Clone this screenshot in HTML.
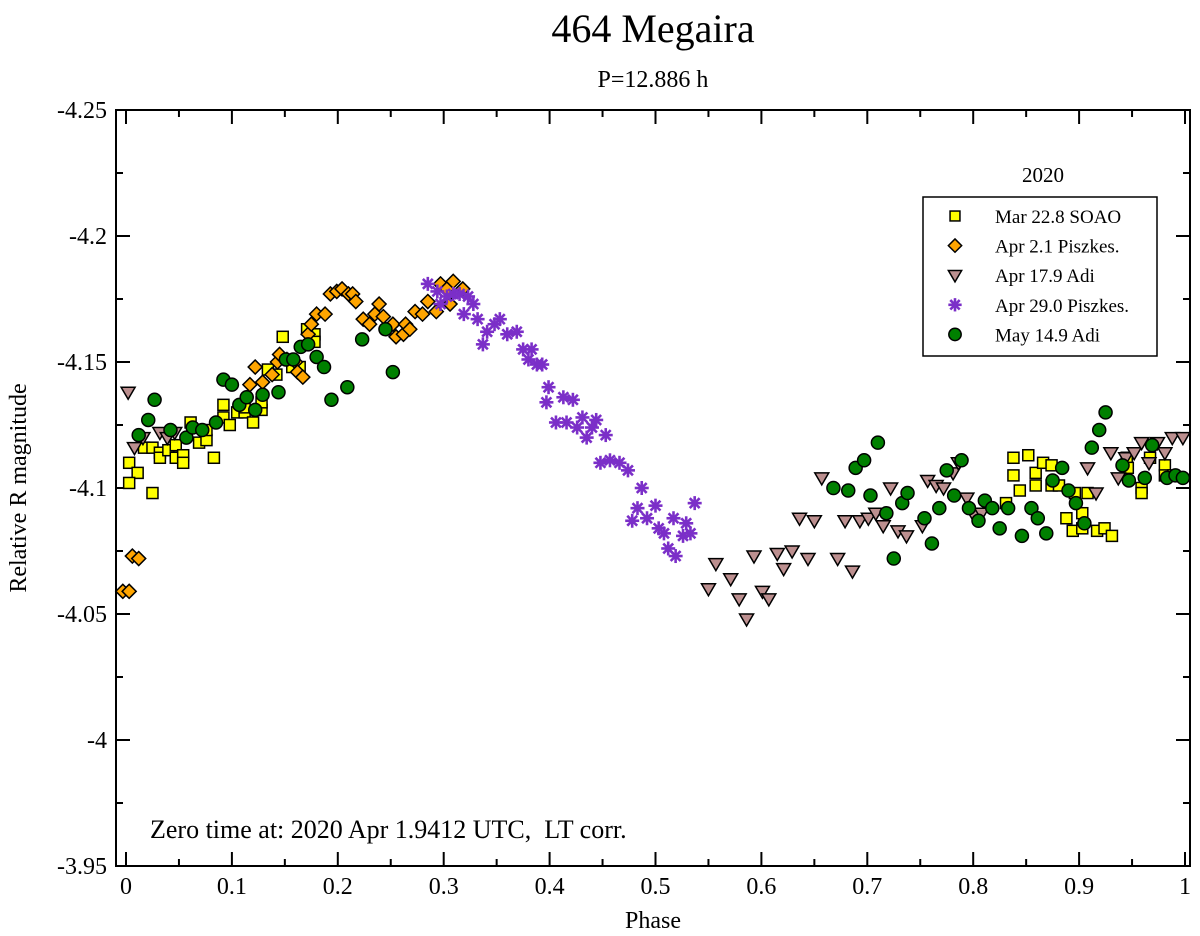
<!DOCTYPE html>
<html><head><meta charset="utf-8"><style>
html,body{margin:0;padding:0;background:#fff}
svg{display:block}
text{font-family:"Liberation Serif",serif;fill:#000}
</style></head><body>
<svg id="chart" width="1200" height="936" viewBox="0 0 1200 936">
<text x="653" y="42" font-size="40" text-anchor="middle">464 Megaira</text>
<text x="653" y="87" font-size="24" text-anchor="middle">P=12.886 h</text>
<rect x="116" y="110" width="1074" height="756" fill="none" stroke="#000" stroke-width="2"/>
<g id="axes"></g>
<g id="marks"></g>
<text x="653" y="928" font-size="24" text-anchor="middle">Phase</text>
<text transform="translate(26,488) rotate(-90)" font-size="24" text-anchor="middle">Relative R magnitude</text>
<text x="150" y="838" font-size="26">Zero time at: 2020 Apr 1.9412 UTC,&#160; LT corr.</text>
<g>
<text x="1043" y="182" font-size="21" text-anchor="middle">2020</text>
<rect x="923" y="197" width="234" height="159" fill="#fff" stroke="#000" stroke-width="1.5"/>
<g id="legend-items"></g>
</g>
</svg>
<script>
const xTicks=[0,0.1,0.2,0.3,0.4,0.5,0.6,0.7,0.8,0.9,1];
const xTickLabels=["0","0.1","0.2","0.3","0.4","0.5","0.6","0.7","0.8","0.9","1"];
const yTicks=[-4.25,-4.2,-4.15,-4.1,-4.05,-4,-3.95];
const yTickLabels=["-4.25","-4.2","-4.15","-4.1","-4.05","-4","-3.95"];
const seriesNames=["Mar 22.8 SOAO","Apr 2.1 Piszkes.","Apr 17.9 Adi","Apr 29.0 Piszkes.","May 14.9 Adi"];
const soaoPhase=[0.003,0.011,0.003,0.025,0.017,0.025,0.032,0.032,0.040,0.047,0.047,0.054,0.054,0.061,0.069,0.076,0.076,0.083,0.092,0.092,0.098,0.105,0.112,0.112,0.120,0.128,0.128,0.134,0.142,0.148,0.157,0.164,0.171,0.178,0.178,0.831,0.838,0.852,0.838,0.844,0.859,0.859,0.866,0.874,0.874,0.881,0.888,0.894,0.896,0.903,0.903,0.908,0.917,0.924,0.931,0.945,0.946,0.959,0.959,0.967,0.981,0.981,0.989];
const soaoMag=[-4.110,-4.106,-4.102,-4.098,-4.116,-4.116,-4.114,-4.112,-4.115,-4.117,-4.112,-4.113,-4.110,-4.126,-4.118,-4.119,-4.123,-4.112,-4.133,-4.128,-4.125,-4.130,-4.130,-4.132,-4.126,-4.131,-4.134,-4.147,-4.145,-4.160,-4.148,-4.148,-4.163,-4.161,-4.158,-4.094,-4.112,-4.113,-4.105,-4.099,-4.106,-4.101,-4.110,-4.109,-4.101,-4.101,-4.088,-4.083,-4.098,-4.084,-4.090,-4.098,-4.083,-4.084,-4.081,-4.112,-4.108,-4.100,-4.098,-4.112,-4.109,-4.105,-4.105];
const pisz1Phase=[-0.003,0.003,0.006,0.012,0.117,0.122,0.129,0.138,0.143,0.145,0.152,0.160,0.162,0.167,0.172,0.175,0.180,0.188,0.193,0.199,0.204,0.210,0.214,0.217,0.224,0.230,0.235,0.239,0.243,0.252,0.255,0.262,0.264,0.268,0.273,0.280,0.285,0.293,0.297,0.303,0.309,0.318,0.306];
const pisz1Mag=[-4.059,-4.059,-4.073,-4.072,-4.141,-4.148,-4.142,-4.145,-4.150,-4.153,-4.151,-4.150,-4.146,-4.144,-4.161,-4.165,-4.169,-4.169,-4.177,-4.178,-4.179,-4.177,-4.177,-4.174,-4.167,-4.165,-4.169,-4.173,-4.168,-4.165,-4.160,-4.161,-4.165,-4.163,-4.170,-4.169,-4.174,-4.170,-4.181,-4.179,-4.182,-4.179,-4.173];
const adi1Phase=[0.002,0.008,0.016,0.032,0.039,0.046,0.550,0.557,0.571,0.579,0.586,0.593,0.601,0.607,0.615,0.621,0.629,0.636,0.644,0.650,0.657,0.672,0.679,0.686,0.693,0.701,0.708,0.715,0.722,0.729,0.737,0.752,0.757,0.765,0.772,0.781,0.786,0.794,0.801,0.808,0.908,0.916,0.930,0.937,0.944,0.952,0.959,0.966,0.974,0.981,0.988,0.998];
const adi1Mag=[-4.138,-4.116,-4.120,-4.122,-4.120,-4.122,-4.060,-4.070,-4.064,-4.056,-4.048,-4.073,-4.059,-4.056,-4.074,-4.068,-4.075,-4.088,-4.072,-4.087,-4.104,-4.072,-4.087,-4.067,-4.087,-4.088,-4.090,-4.085,-4.100,-4.083,-4.081,-4.085,-4.103,-4.101,-4.100,-4.106,-4.110,-4.096,-4.089,-4.090,-4.108,-4.098,-4.114,-4.104,-4.112,-4.114,-4.118,-4.110,-4.118,-4.114,-4.120,-4.120];
const pisz2Phase=[0.285,0.294,0.297,0.303,0.309,0.315,0.323,0.328,0.319,0.332,0.341,0.337,0.348,0.353,0.360,0.369,0.375,0.383,0.380,0.388,0.393,0.399,0.397,0.413,0.422,0.406,0.416,0.426,0.431,0.435,0.440,0.444,0.453,0.448,0.457,0.466,0.474,0.487,0.483,0.478,0.492,0.500,0.503,0.508,0.512,0.519,0.517,0.529,0.526,0.533,0.537];
const pisz2Mag=[-4.181,-4.178,-4.173,-4.176,-4.177,-4.177,-4.176,-4.173,-4.169,-4.167,-4.162,-4.157,-4.165,-4.167,-4.161,-4.162,-4.155,-4.155,-4.151,-4.149,-4.149,-4.140,-4.134,-4.136,-4.135,-4.126,-4.126,-4.124,-4.128,-4.120,-4.124,-4.127,-4.121,-4.110,-4.111,-4.110,-4.107,-4.100,-4.092,-4.087,-4.088,-4.093,-4.084,-4.082,-4.076,-4.073,-4.088,-4.086,-4.081,-4.082,-4.094];
const adi2Phase=[0.012,0.021,0.027,0.042,0.057,0.063,0.072,0.085,0.092,0.100,0.107,0.114,0.122,0.129,0.144,0.151,0.158,0.165,0.172,0.180,0.187,0.194,0.209,0.223,0.245,0.252,0.668,0.682,0.689,0.697,0.703,0.710,0.718,0.725,0.733,0.738,0.754,0.761,0.768,0.775,0.782,0.789,0.796,0.805,0.811,0.818,0.825,0.833,0.846,0.855,0.861,0.869,0.875,0.884,0.890,0.897,0.905,0.912,0.919,0.925,0.941,0.947,0.962,0.969,0.983,0.991,0.998];
const adi2Mag=[-4.121,-4.127,-4.135,-4.123,-4.120,-4.124,-4.123,-4.126,-4.143,-4.141,-4.133,-4.136,-4.131,-4.137,-4.138,-4.151,-4.151,-4.156,-4.157,-4.152,-4.148,-4.135,-4.140,-4.159,-4.163,-4.146,-4.100,-4.099,-4.108,-4.111,-4.097,-4.118,-4.090,-4.072,-4.094,-4.098,-4.088,-4.078,-4.092,-4.107,-4.097,-4.111,-4.092,-4.087,-4.095,-4.092,-4.084,-4.092,-4.081,-4.092,-4.088,-4.082,-4.103,-4.108,-4.099,-4.094,-4.086,-4.116,-4.123,-4.130,-4.109,-4.103,-4.104,-4.117,-4.104,-4.105,-4.104];

const NS="http://www.w3.org/2000/svg";
const X0=116,X1=1190,Y0=110,Y1=866;
function xs(p){return 126+p*1059;}
function ys(m){return Y0+(m+4.25)/0.3*(Y1-Y0);}
function mk(tag,attrs,parent){const e=document.createElementNS(NS,tag);for(const k in attrs)e.setAttribute(k,attrs[k]);parent.appendChild(e);return e;}
const axes=document.getElementById('axes');
xTicks.forEach((t,i)=>{
  const x=xs(t);
  const l=mk('line',{x1:x,x2:x,y1:Y1,y2:Y1-14,stroke:'#000','stroke-width':2},axes);
  
  
  const l2=mk('line',{x1:x,x2:x,y1:Y0,y2:Y0+14,stroke:'#000','stroke-width':2},axes);
  
  
  const tx=mk('text',{x:x,y:Y1+28,'font-size':24,'text-anchor':'middle'},axes);
  tx.textContent=xTickLabels[i];
  
  
  if(i<xTicks.length-1){const xm=xs(t+0.05);
    const m1=mk('line',{x1:xm,x2:xm,y1:Y1,y2:Y1-7,stroke:'#000','stroke-width':2},axes);
    
    
    const m2=mk('line',{x1:xm,x2:xm,y1:Y0,y2:Y0+7,stroke:'#000','stroke-width':2},axes);
    
    }
});
yTicks.forEach((t,i)=>{
  const y=ys(t);
  const l=mk('line',{x1:X0,x2:X0+14,y1:y,y2:y,stroke:'#000','stroke-width':2},axes);
  
  
  const l2=mk('line',{x1:X1,x2:X1-14,y1:y,y2:y,stroke:'#000','stroke-width':2},axes);
  
  
  const tx=mk('text',{x:107,y:y+8,'font-size':24,'text-anchor':'end'},axes);
  tx.textContent=yTickLabels[i];
  
  
  if(i<yTicks.length-1){const ym=ys(t+0.025);
    const m1=mk('line',{x1:X0,x2:X0+7,y1:ym,y2:ym,stroke:'#000','stroke-width':2},axes);
    
    
    const m2=mk('line',{x1:X1,x2:X1-7,y1:ym,y2:ym,stroke:'#000','stroke-width':2},axes);
    
    }
});
function sym(kind,x,y,parent,s){
  s=s||1;
  if(kind==0)return mk('rect',{x:x-5.5*s,y:y-5.5*s,width:11*s,height:11*s,fill:'#ffff00',stroke:'#000','stroke-width':1.5},parent);
  if(kind==1)return mk('polygon',{points:`${x},${y-7*s} ${x+7*s},${y} ${x},${y+7*s} ${x-7*s},${y}`,fill:'#ffa500',stroke:'#000','stroke-width':1.5},parent);
  if(kind==2)return mk('polygon',{points:`${x-7*s},${y-5*s} ${x+7*s},${y-5*s} ${x},${y+7*s}`,fill:'#bc8f8f',stroke:'#000','stroke-width':1.5},parent);
  if(kind==3){const g=mk('g',{stroke:'#7b2fc8','stroke-width':2.6},parent);
    for(let a=0;a<4;a++){const an=a*Math.PI/4;mk('line',{x1:x-7*s*Math.cos(an),y1:y-7*s*Math.sin(an),x2:x+7*s*Math.cos(an),y2:y+7*s*Math.sin(an)},g);}return g;}
  return mk('circle',{cx:x,cy:y,r:6.5*s,fill:'#008000',stroke:'#000','stroke-width':1.5},parent);
}
const marks=document.getElementById('marks');
const series=[[soaoPhase,soaoMag,'soao-point'],[pisz1Phase,pisz1Mag,'piszkes-apr2-point'],[adi1Phase,adi1Mag,'adi-apr17-point'],[pisz2Phase,pisz2Mag,'piszkes-apr29-point'],[adi2Phase,adi2Mag,'adi-may14-point']];
series.forEach((s,k)=>{
  s[0].forEach((p,i)=>{
    const e=sym(k,xs(p),ys(s[1][i]),marks);
    
    
  });
});
const leg=document.getElementById('legend-items');
seriesNames.forEach((n,k)=>{
  const y=216+k*29.6;
  const e=sym(k,955,y,leg,k==0?0.9:0.95);
  
  
  const t=mk('text',{x:995,y:y+7,'font-size':19},leg);
  t.textContent=n;
  
  
});
</script>
</body></html>
